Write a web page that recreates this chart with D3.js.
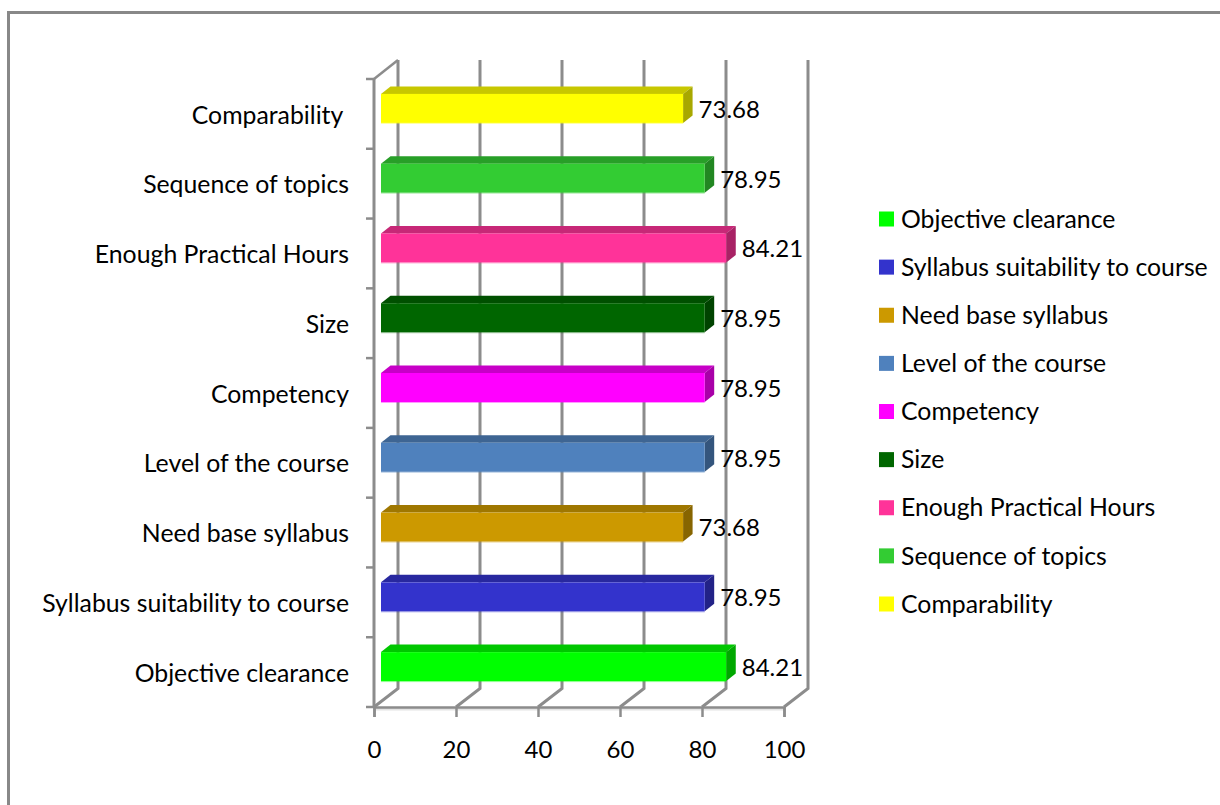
<!DOCTYPE html>
<html>
<head>
<meta charset="utf-8">
<script src="https://cdn.jsdelivr.net/npm/d3@7"></script>
<style>
    html, body { margin: 0; padding: 0; background: #fff; }
    svg { display: block; }
    text { font-family: Lato, sans-serif; fill: #000; white-space: pre; }
</style>
</head>
<body>
<div id="chart"></div>
<script>
// bottom to top, same order as the legend
const categories = ["Objective clearance", "Syllabus suitability to course", "Need base syllabus",
    "Level of the course", "Competency", "Size", "Enough Practical Hours", "Sequence of topics", "Comparability"];
const values = [84.21, 78.95, 73.68, 78.95, 78.95, 78.95, 84.21, 78.95, 73.68];
const xTicks = [0, 20, 40, 60, 80, 100];
const colors = ["#00ff00", "#3333cc", "#cc9900", "#4f81bd", "#ff00ff", "#006600", "#ff3399", "#33cc33", "#ffff00"];

const width = 1220, height = 805;
const gridColor = "#8c8c8c";
const labelSize = 24.8, numberSize = 24;

// plot box, depth is the 3d shift of the back wall
const depthX = 24, depthY = 18.5;
const barDepthX = 9.5, barDepthY = 7.5;
const barGapX = 7, barHeight = 29;

const svg = d3.select("#chart").append("svg")
    .attr("width", width)
    .attr("height", height);

// outer frame, only top and left show
svg.append("path")
    .attr("d", "M8.5," + height + "V12.5H" + width)
    .attr("fill", "none")
    .attr("stroke", "#888")
    .attr("stroke-width", 3);

const x = d3.scaleLinear().domain([0, 100]).range([374, 784]);
const y = d3.scaleBand().domain(categories).range([707, 79]);

// back wall lines + floor diagonals
const grid = svg.append("g");
xTicks.forEach(function (t) {
    grid.append("path")
        .attr("d", "M" + x(t) + ",707L" + (x(t) + depthX) + "," + (707 - depthY) + "V60")
        .attr("fill", "none")
        .attr("stroke", gridColor)
        .attr("stroke-width", 3);
});
grid.append("line")
    .attr("x1", x(0)).attr("y1", 79)
    .attr("x2", x(0) + depthX).attr("y2", 60)
    .attr("stroke", gridColor)
    .attr("stroke-width", 2.5);

// floor shadow
svg.append("rect")
    .attr("x", x(0)).attr("y", 708)
    .attr("width", x(100) - x(0)).attr("height", 2.5)
    .attr("fill", "#e4e4e4");

// bottom axis
const xAxis = d3.axisBottom(x).tickValues(xTicks).tickSize(10).tickPadding(24).tickFormat(d3.format("d"));
const xG = svg.append("g").attr("transform", "translate(0,707)").call(xAxis);
xG.select(".domain").attr("stroke", gridColor).attr("stroke-width", 2.5);
xG.selectAll(".tick line").attr("stroke", gridColor).attr("stroke-width", 2.5);
xG.selectAll("text").attr("font-size", numberSize).attr("font-family", "Lato, sans-serif").attr("fill", "#000");

// left axis, ticks sit on the band edges
svg.append("line")
    .attr("x1", x(0)).attr("y1", 79)
    .attr("x2", x(0)).attr("y2", 707)
    .attr("stroke", gridColor)
    .attr("stroke-width", 3);
const edges = d3.range(categories.length + 1);
svg.append("g").selectAll("line")
    .data(edges)
    .enter().append("line")
    .attr("x1", x(0) - 8)
    .attr("x2", x(0))
    .attr("y1", d => 707 - d * y.step())
    .attr("y2", d => 707 - d * y.step())
    .attr("stroke", gridColor)
    .attr("stroke-width", 2.5);

const rows = categories.map(function (c, i) {
    return { name: c, value: values[i], color: colors[i] };
});

function shade(col, k) {
    let c = d3.rgb(col);
    return d3.rgb(c.r * k, c.g * k, c.b * k).formatHex();
}

const barTop = d => y(d.name) + y.bandwidth() / 2 - 20;
const barRight = d => x(d.value) + barGapX;
const barLeft = x(0) + barGapX;

const bars = svg.append("g").selectAll("g")
    .data(rows)
    .enter().append("g");

// top face
bars.append("path")
    .attr("d", d => "M" + barLeft + "," + barTop(d)
        + "L" + (barLeft + barDepthX) + "," + (barTop(d) - barDepthY)
        + "H" + (barRight(d) + barDepthX)
        + "L" + barRight(d) + "," + barTop(d) + "Z")
    .attr("fill", d => shade(d.color, 0.78));

// side face
bars.append("path")
    .attr("d", d => "M" + barRight(d) + "," + barTop(d)
        + "L" + (barRight(d) + barDepthX) + "," + (barTop(d) - barDepthY)
        + "V" + (barTop(d) - barDepthY + barHeight)
        + "L" + barRight(d) + "," + (barTop(d) + barHeight) + "Z")
    .attr("fill", d => shade(d.color, 0.66));

// front face
bars.append("rect")
    .attr("x", barLeft)
    .attr("y", barTop)
    .attr("width", d => barRight(d) - barLeft)
    .attr("height", barHeight)
    .attr("fill", d => d.color);

// thin light edge under the front face
bars.append("line")
    .attr("x1", barLeft)
    .attr("x2", barRight)
    .attr("y1", d => barTop(d) + barHeight + 0.5)
    .attr("y2", d => barTop(d) + barHeight + 0.5)
    .attr("stroke", d => d.color)
    .attr("stroke-opacity", 0.4);

// value labels
bars.append("text")
    .attr("x", d => barRight(d) + barDepthX + 6)
    .attr("y", d => barTop(d) + barHeight / 2 + 1)
    .attr("dy", "0.35em")
    .attr("font-size", numberSize)
    .text(d => d.value.toFixed(2));

// category labels
svg.append("g").selectAll("text")
    .data(rows)
    .enter().append("text")
    .attr("x", 349)
    .attr("y", d => y(d.name) + y.bandwidth() / 2 + 1)
    .attr("dy", "0.35em")
    .attr("text-anchor", "end")
    .attr("font-size", labelSize)
    .text(d => d.name === "Comparability" ? d.name + " " : d.name);

// legend
const legendY = d3.scalePoint().domain(categories).range([219, 604]);
const legend = svg.append("g").selectAll("g")
    .data(rows)
    .enter().append("g")
    .attr("transform", d => "translate(879," + legendY(d.name) + ")");
legend.append("rect")
    .attr("x", 0).attr("y", -7.5)
    .attr("width", 15).attr("height", 15)
    .attr("fill", d => d.color);
legend.append("text")
    .attr("x", 22)
    .attr("dy", "0.35em")
    .attr("font-size", labelSize)
    .text(d => d.name);
</script>
</body>
</html>
